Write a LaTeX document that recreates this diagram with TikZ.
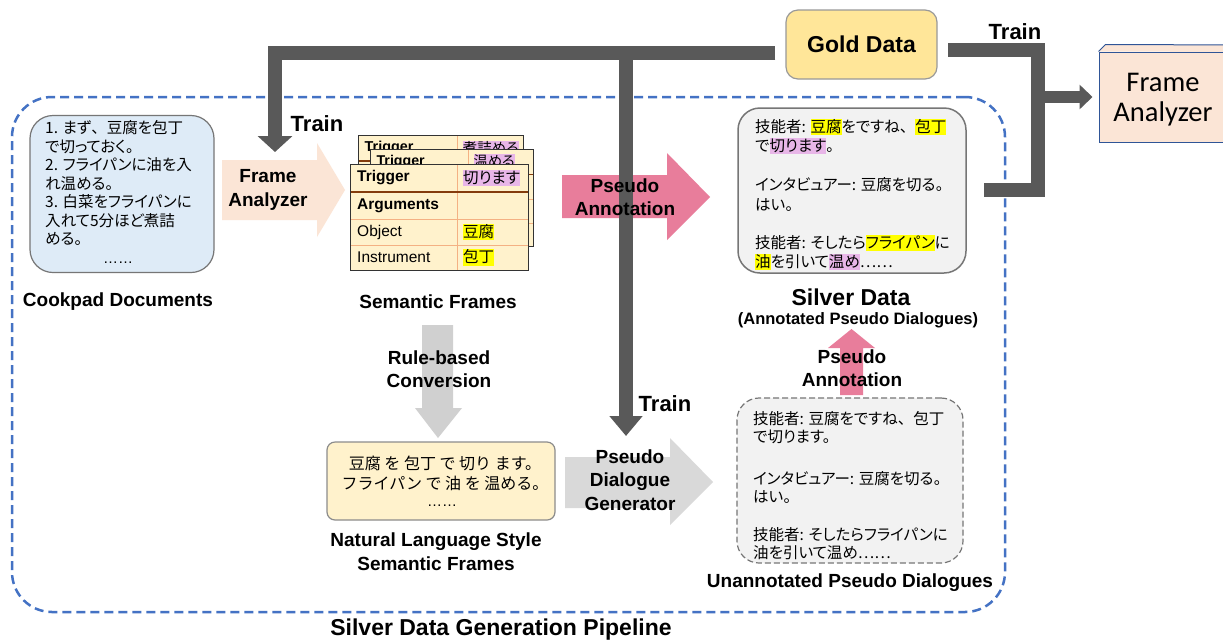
\documentclass[tikz,border=0pt]{standalone}
\usepackage{fontspec}
\setmainfont{Liberation Sans}
\newfontfamily\jp[RawFeature=+palt]{Noto Sans CJK JP}
\newfontfamily\jpfull{Noto Sans CJK JP}
\newfontfamily\carl{Carlito}
\usetikzlibrary{arrows.meta}
\definecolor{dashblue}{RGB}{68,114,196}
\definecolor{gcol}{RGB}{89,89,89}
\definecolor{cookfill}{RGB}{222,235,247}
\definecolor{boxgray}{RGB}{118,118,118}
\definecolor{peach}{RGB}{251,229,214}
\definecolor{tabfill}{RGB}{255,242,204}
\definecolor{tabin}{RGB}{244,177,131}
\definecolor{tabsep}{RGB}{132,60,12}
\definecolor{goldfill}{RGB}{255,230,153}
\definecolor{pinkarrow}{RGB}{232,125,155}
\definecolor{lgray}{RGB}{217,217,217}
\definecolor{rgray}{RGB}{208,208,208}
\definecolor{silverfill}{RGB}{242,242,242}
\definecolor{hly}{RGB}{255,255,0}
\definecolor{hlp}{RGB}{232,182,232}
\definecolor{fablue}{RGB}{47,85,151}
\newcommand\hy[1]{{\setlength{\fboxsep}{0pt}\colorbox{hly}{\rule[-0.17em]{0pt}{1.04em}#1}}}
\newcommand\hp[1]{{\setlength{\fboxsep}{0pt}\colorbox{hlp}{\rule[-0.17em]{0pt}{1.04em}#1}}}
\newcommand\ten{{\jpfull 、}}
\newcommand\ftable[4]{%
 \begin{scope}[shift={#2},scale=#3,every node/.append style={transform shape}]
  \fill[tabfill] (0,0) rectangle (178,106);
  \draw[tabin,line width=0.8pt] (107,0) -- (107,106) (0,55) -- (178,55) (0,81) -- (178,81);
  \draw[tabsep,line width=1.5pt] (0,28) -- (178,28);
  \draw[black!80,line width=1pt] (0,0) rectangle (178,106);
  \node[tabtxt,font=\bfseries\fontsize{15.5}{18}\selectfont] (#1-trig) at (7,14) {Trigger};
  \node[tabtxt,font=\jp\fontsize{15.5}{18}\selectfont] (#1-tv) at (113,14) {\hp{#4}};
  \node[tabtxt,font=\bfseries\fontsize{15.5}{18}\selectfont] (#1-arg) at (7,41.5) {Arguments};
  \node[tabtxt,font=\fontsize{15.5}{18}\selectfont] (#1-obj) at (7,68) {Object};
  \node[tabtxt,font=\jp\fontsize{15.5}{18}\selectfont] (#1-objv) at (113,68) {\hy{豆腐}};
  \node[tabtxt,font=\fontsize{15.5}{18}\selectfont] (#1-ins) at (7,93.5) {Instrument};
  \node[tabtxt,font=\jp\fontsize{15.5}{18}\selectfont] (#1-insv) at (113,93.5) {\hy{包丁}};
 \end{scope}}
\begin{document}
\begin{tikzpicture}[x=1pt,y=-1pt,
  lbl/.style={font=\bfseries\fontsize{19}{23.5}\selectfont,align=center,inner sep=0},
  jpc/.style={font=\jp\fontsize{15.5}{19}\selectfont,anchor=base west,inner sep=0},
  jpd/.style={font=\jp\fontsize{15.5}{19}\selectfont,anchor=base west,inner sep=0},
  tabtxt/.style={anchor=west,inner sep=0},
  gline/.style={draw=gcol,line width=14pt,line join=miter},
  roundbox/.style={draw=boxgray,line width=1.2pt,inner sep=0}]
\clip (0,0) rectangle (1223,641);
\fill[white] (0,0) rectangle (1223,641);

% pipeline frame
\node[draw=dashblue,line width=2.5pt,dash pattern=on 9pt off 5pt,rounded corners=40pt,
  minimum width=993pt,minimum height=515pt,inner sep=0] (pipe) at (508.5,354.5) {};
\node[font=\bfseries\fontsize{23}{26}\selectfont,inner sep=0] (pipet) at (501,630) {Silver Data Generation Pipeline};

% gold data
\node[roundbox,fill=goldfill,draw=black!40,rounded corners=12pt,minimum width=151pt,minimum height=69pt,
  font=\bfseries\fontsize{23}{26}\selectfont] (gold) at (861.5,44.5) {Gold Data\hspace{18pt}};

% frame analyzer (right)
\node[draw=fablue,fill=peach,line width=1pt,minimum width=141pt,minimum height=90pt,inner sep=0] (fa2) at (1169.5,97) {};
\draw[draw=fablue,fill=peach,line width=1pt] (fa2.north west) -- ++(7,-7) -- (1245,45) -- (1245,52);
\node[font=\carl\fontsize{28.5}{30}\selectfont,align=center,inner sep=0] (fa2t) at (1163,100) {Frame\\Analyzer};

% cookpad
\node[roundbox,fill=cookfill,rounded corners=23pt,minimum width=184pt,minimum height=157pt] (cook) at (122,194) {};
\node[jpc] (ck1) at (45,133.5) {1. まず\ten 豆腐を包丁};
\node[jpc] (ck2) at (45,152) {で切っておく。};
\node[jpc] (ck3) at (45,170.5) {2. フライパンに油を入};
\node[jpc] (ck4) at (45,189) {れ温める。};
\node[jpc] (ck5) at (45,207.5) {3. 白菜をフライパンに};
\node[jpc] (ck6) at (45,226) {入れて5分ほど煮詰};
\node[jpc] (ck7) at (45,244.5) {める。};
\node[font=\fontsize{15}{19}\selectfont,anchor=base,inner sep=0] (ck8) at (118,263) {……};
\node[lbl] (cookl) at (118,302) {Cookpad Documents};

% frame analyzer arrow
\fill[peach] (222,160) -- (317,160) -- (317,143) -- (345,190) -- (317,237) -- (317,220) -- (222,220) -- cycle;

% semantic frames
\ftable{tb}{(358,135)}{0.927}{煮詰める}
\ftable{tm}{(370,149)}{0.916}{温める}
\ftable{tf}{(350,164)}{1}{切ります}
\node[lbl] (semf) at (438,302) {Semantic Frames};

% rule-based arrow
\fill[rgray] (422,325) -- (453,325) -- (453,408) -- (462,408) -- (438,438) -- (415,408) -- (422,408) -- cycle;

% NL box
\node[roundbox,draw=black!45,fill=tabfill,rounded corners=8pt,minimum width=228pt,minimum height=78pt] (nl) at (441,481) {};
\node[font=\jpfull\fontsize{16}{19}\selectfont,anchor=base,inner sep=0] (nl1) at (445,469) {豆腐 を 包丁 で 切り ます。};
\node[font=\jpfull\fontsize{16}{19}\selectfont,anchor=base,inner sep=0] (nl2) at (445,489) {フライパン で 油 を 温める。};
\node[font=\fontsize{15}{19}\selectfont,anchor=base,inner sep=0] (nl3) at (442,506) {……};
\node[lbl] (nll) at (436,551.5) {Natural Language Style\\Semantic Frames};

% pseudo annotation arrow (big)
\fill[pinkarrow] (562,175) -- (667,175) -- (667,153) -- (710,197) -- (667,240) -- (667,218) -- (562,218) -- cycle;
% pseudo dialogue generator arrow
\fill[lgray] (565,457) -- (670,457) -- (670,438) -- (713,482) -- (670,525) -- (670,508) -- (565,508) -- cycle;

% silver data
\node[roundbox,draw=boxgray,line width=1.5pt,fill=silverfill,rounded corners=22pt,minimum width=228pt,minimum height=165pt] (silver) at (852,190.5) {};
\node[jpd] (sv1) at (755,132) {技能者: \hy{豆腐}をですね\ten\hy{包丁}};
\node[jpd] (sv2) at (755,151.5) {で\hp{切ります}。};
\node[jpd] (sv3) at (755,190.5) {インタビュアー: 豆腐を切る。};
\node[jpd] (sv4) at (755,210) {はい。};
\node[jpd] (sv5) at (755,248.5) {技能者: そしたら\hy{フライパン}に};
\node[jpd] (sv6) at (755,267) {\hy{油}を引いて\hp{温め}……};
\node[lbl,font=\bfseries\fontsize{23}{26}\selectfont] (svl) at (851,297) {Silver Data};
\node[lbl,font=\bfseries\fontsize{16.5}{20}\selectfont] (svl2) at (858,320) {(Annotated Pseudo Dialogues)};

% up arrow
\fill[pinkarrow] (840,395) -- (840,348) -- (828,348) -- (851.5,329) -- (875,348) -- (863,348) -- (863,395) -- cycle;
\node[lbl] (upl) at (852,368) {Pseudo\\Annotation};

% unannotated
\node[roundbox,draw=boxgray,dash pattern=on 6pt off 3pt,fill=silverfill,rounded corners=22pt,minimum width=226pt,minimum height=165pt] (unan) at (850,480.5) {};
\node[jpd] (un1) at (753,424) {技能者: 豆腐をですね\ten 包丁};
\node[jpd] (un2) at (753,442.5) {で切ります。};
\node[jpd] (un3) at (753,484) {インタビュアー: 豆腐を切る。};
\node[jpd] (un4) at (753,502.5) {はい。};
\node[jpd] (un5) at (753,540) {技能者: そしたらフライパンに};
\node[jpd] (un6) at (753,558.5) {油を引いて温め……};
\node[lbl] (unl) at (850,583) {Unannotated Pseudo Dialogues};

% gray training lines
\coordinate (gL) at ([shift={(-10,8.5)}]gold.west);
\coordinate (faIn) at (275,152);
\coordinate (jc) at (626,53);
\coordinate (pdgIn) at (626,436);
\draw[gline,-{Triangle[width=34pt,length=16pt]}] (gL) -| (faIn);
\draw[gline,-{Triangle[width=32pt,length=20pt]}] (jc) -- (pdgIn);
\coordinate (sOut) at (984,190);
\coordinate (gR) at ([shift={(10,5.5)}]gold.east);
\draw[gline] (sOut) -| (1038,50) -- (gR);
\coordinate (rj) at (1038,97);
\draw[gline,line width=12pt,-{Triangle[width=24pt,length=13pt]}] (rj) -- ([xshift=-6pt]fa2.west);

% labels on arrows
\node[lbl] (fal) at (268,190) {Frame\\Analyzer};
\node[lbl] (pal) at (625,197) {Pseudo\\Annotation};
\node[lbl] (pdgl) at (630,480) {Pseudo\\Dialogue\\Generator};
\node[lbl] (rbl) at (439,369) {Rule-based\\Conversion};
\node[lbl,font=\bfseries\fontsize{22}{26}\selectfont] (tr1) at (317,124) {Train};
\node[lbl,font=\bfseries\fontsize{22}{26}\selectfont] (tr2) at (665,404) {Train};
\node[lbl,font=\bfseries\fontsize{22}{26}\selectfont] (tr3) at (1015,32) {Train};
\end{tikzpicture}
\end{document}
